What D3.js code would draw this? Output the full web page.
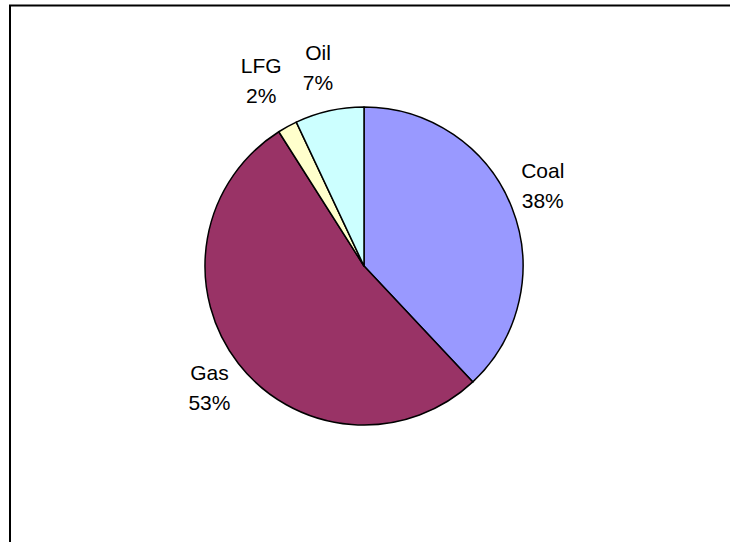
<!DOCTYPE html>
<html>
<head>
<meta charset="utf-8">
<script src="https://cdn.jsdelivr.net/npm/d3@7"></script>
<style>
  html, body { margin: 0; padding: 0; background: #fff; }
  svg { display: block; }
  text { font-family: "Liberation Sans", Arial, sans-serif; fill: #000; }
</style>
</head>
<body>
<svg id="chart" width="730" height="542"></svg>
<script>
// Fuel mix shares (percent), clockwise from 12 o'clock
const fuels = ["Coal", "Gas", "LFG", "Oil"];
const shares = [38, 53, 2, 7];
const fuelColors = ["#9999FF", "#993366", "#FFFFCC", "#CCFFFF"];

const width = 730, height = 542;
const cx = 364, cy = 266, radius = 159;
const labelGap = 10;          // distance from rim to the label box corner
const fontSize = 21;
const capHeight = 15, lineStep = 30;
const boxHeight = capHeight + lineStep;
// small per-label shifts to fine-tune placement
const labelShift = { Coal: [0, 4], Gas: [0, -5], LFG: [-1, -15], Oil: [6, -11] };

const svg = d3.select("#chart");

// Chart area frame (top and left edges visible)
svg.append("path")
  .attr("d", `M10,${height} V5.5 H${width}`)
  .attr("fill", "none")
  .attr("stroke", "#000")
  .attr("stroke-width", 2);

const data = fuels.map((f, i) => ({ name: f, value: shares[i], color: fuelColors[i] }));

const pie = d3.pie().value(d => d.value).sort(null);
const arc = d3.arc().innerRadius(0).outerRadius(radius);
const arcs = pie(data);

const g = svg.append("g").attr("transform", `translate(${cx},${cy})`);

g.selectAll("path.slice")
  .data(arcs)
  .join("path")
  .attr("class", "slice")
  .attr("d", arc)
  .attr("fill", d => d.data.color)
  .attr("stroke", "#000")
  .attr("stroke-width", 1.5)
  .attr("stroke-linejoin", "round");

// Category and percent labels: the box corner nearest the pie sits just outside the rim
const labels = g.selectAll("g.label")
  .data(arcs)
  .join("g")
  .attr("class", "label");

labels.append("text")
  .attr("class", "l1")
  .attr("text-anchor", "middle")
  .style("font-size", fontSize + "px")
  .text(d => d.data.name);

labels.append("text")
  .attr("class", "l2")
  .attr("text-anchor", "middle")
  .style("font-size", fontSize + "px")
  .text(d => `${d.data.value}%`);

labels.each(function(d) {
  const sel = d3.select(this);
  const w = Math.max(
    sel.select(".l1").node().getComputedTextLength(),
    sel.select(".l2").node().getComputedTextLength()
  );
  const a = (d.startAngle + d.endAngle) / 2;
  const px = Math.sin(a) * (radius + labelGap);
  const py = -Math.cos(a) * (radius + labelGap);
  const shift = labelShift[d.data.name] || [0, 0];
  const centerX = (Math.sin(a) >= 0 ? px + w / 2 : px - w / 2) + shift[0];
  const top = (Math.cos(a) >= 0 ? py - boxHeight : py) + shift[1];
  sel.select(".l1").attr("x", centerX).attr("y", top + capHeight);
  sel.select(".l2").attr("x", centerX).attr("y", top + capHeight + lineStep);
});
</script>
</body>
</html>
